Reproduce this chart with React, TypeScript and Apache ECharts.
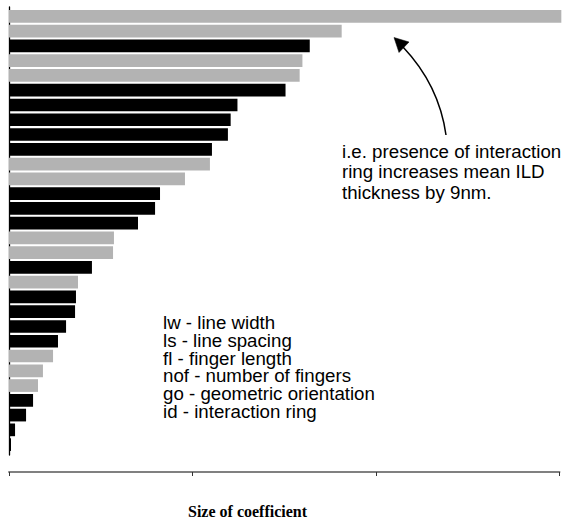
import React, { useEffect, useRef } from "react";
import * as echarts from "echarts";

// Terms of the model, sorted by coefficient size (top to bottom)
const terms = [
  "T1", "T2", "T3", "T4", "T5", "T6", "T7", "T8", "T9", "T10",
  "T11", "T12", "T13", "T14", "T15", "T16", "T17", "T18", "T19", "T20",
  "T21", "T22", "T23", "T24", "T25", "T26", "T27", "T28", "T29", "T30",
];

// Absolute size of each coefficient
const coefficientSize = [
  3.01, 1.813, 1.639, 1.599, 1.584, 1.507, 1.245, 1.208, 1.193, 1.106,
  1.095, 0.959, 0.823, 0.796, 0.703, 0.572, 0.567, 0.452, 0.376, 0.365,
  0.36, 0.311, 0.267, 0.24, 0.185, 0.158, 0.131, 0.093, 0.033, 0.011,
];

// Sign of each coefficient (+ drawn grey, - drawn black)
const coefficientSign = [
  "+", "+", "-", "+", "+", "-", "-", "-", "-", "-",
  "+", "+", "-", "-", "-", "+", "+", "-", "+", "-",
  "-", "-", "-", "+", "+", "+", "-", "-", "-", "-",
];

const axisTicks = [0, 1, 2, 3];

const legendLines = [
  "lw - line width",
  "ls - line spacing",
  "fl - finger length",
  "nof - number of fingers",
  "go - geometric orientation",
  "id - interaction ring",
];

const annotationLines = [
  "i.e. presence of interaction",
  "ring increases mean ILD",
  "thickness by 9nm.",
];

const titleText = "Size of coefficient";

export default function App() {
  const ref = useRef<HTMLDivElement>(null);

  useEffect(() => {
    document.body.style.margin = "0";
    if (!ref.current) return;
    const chart = echarts.init(ref.current, null, { renderer: "svg" });
    const sans = "'Liberation Sans', Arial, Helvetica, sans-serif";

    const option: any = {
      animation: false,
      backgroundColor: "#ffffff",
      title: {
        text: titleText,
        left: 188,
        top: 503,
        padding: 0,
        textStyle: {
          fontFamily: "'Liberation Serif', 'Times New Roman', serif",
          fontWeight: "bold",
          fontSize: 16,
          color: "#000",
        },
      },
      grid: [
        { left: 9, right: 3.5, top: 9, height: 443, containLabel: false },
        { left: 9, right: 3.5, top: 7, height: 448, containLabel: false },
      ],
      xAxis: [
        {
          type: "value",
          gridIndex: 0,
          min: axisTicks[0],
          max: axisTicks[axisTicks.length - 1],
          interval: 1,
          position: "bottom",
          offset: 20,
          axisLine: { show: true, lineStyle: { color: "#808080", width: 2 } },
          axisTick: { show: true, length: 4, lineStyle: { color: "#333", width: 1 } },
          axisLabel: { show: false },
          splitLine: { show: false },
        },
        {
          type: "value",
          gridIndex: 1,
          show: false,
        },
      ],
      yAxis: [
        {
          type: "category",
          gridIndex: 0,
          data: terms,
          inverse: true,
          axisLine: { show: false },
          axisTick: { show: false },
          axisLabel: { show: false },
          splitLine: { show: false },
        },
        {
          type: "value",
          gridIndex: 1,
          axisLine: { show: true, onZero: false, lineStyle: { color: "#000", width: 1.3 } },
          axisTick: { show: false },
          axisLabel: { show: false },
          splitLine: { show: false },
        },
      ],
      series: [
        {
          type: "bar",
          xAxisIndex: 0,
          yAxisIndex: 0,
          clip: false,
          barWidth: 12.7,
          data: coefficientSize.map((v, i) => ({
            value: v,
            itemStyle: { color: coefficientSign[i] === "+" ? "#b3b3b3" : "#000000" },
          })),
        },
      ],
      graphic: [
        {
          type: "text",
          left: 163,
          top: 313,
          style: {
            text: legendLines.join("\n"),
            font: `18.7px ${sans}`,
            lineHeight: 17.8,
            fill: "#000",
          },
        },
        {
          type: "text",
          left: 342,
          top: 141,
          style: {
            text: annotationLines.join("\n"),
            font: `18.7px ${sans}`,
            lineHeight: 20.5,
            fill: "#000",
          },
        },
        {
          type: "bezierCurve",
          shape: { x1: 403, y1: 47, x2: 446, y2: 135, cpx1: 439, cpy1: 85 },
          style: { stroke: "#000", lineWidth: 1.5, fill: null },
        },
        {
          type: "polygon",
          shape: { points: [[394, 37.5], [409, 42], [399, 52.5]] },
          style: { fill: "#000", stroke: "#000", lineWidth: 0.5 },
        },
      ],
    };

    chart.setOption(option);
    return () => chart.dispose();
  }, []);

  return <div ref={ref} style={{ width: 563, height: 525 }} />;
}
